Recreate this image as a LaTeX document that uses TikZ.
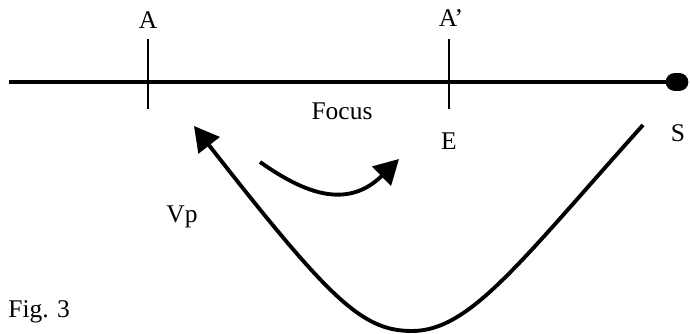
\documentclass[tikz,border=0pt]{standalone}
\usepackage{fontspec}
\setmainfont{Liberation Serif}
\usetikzlibrary{shapes, arrows.meta, positioning, shapes.geometric, calc}

\begin{document}
\begin{tikzpicture}[x=0.02cm, y=-0.02cm, every node/.style={font=\fontsize{14.5}{16}\selectfont}]
    \tikzstyle{axis} = [line width=1.9pt]
    \tikzstyle{tick} = [line width=1.6pt]
    \tikzstyle{move} = [line width=2.2pt, -{Triangle[length=14pt, width=15pt]}]
    \tikzstyle{lbl} = [inner sep=0pt]
    \useasboundingbox (0,0) rectangle (690,334);

    % axis with the two marks
    \coordinate (start) at (9, 82);
    \node[draw, rounded rectangle, fill=black, minimum width=0.44cm, minimum height=0.34cm, inner sep=0pt] (src) at (677, 82) {};
    \draw[axis] (start) -- (src);
    \coordinate (atop) at (148, 39);
    \coordinate (abot) at (148, 109);
    \coordinate (etop) at (449, 39);
    \coordinate (ebot) at (449, 109);
    \draw[tick] (atop) -- (abot);
    \draw[tick] (etop) -- (ebot);

    % labels
    \node[lbl] (a) at (148, 20) {A};
    \node[lbl] (aprime) at (451, 18) {A’};
    \node[lbl] (focus) at (342, 111) {Focus};
    \node[lbl] (e) at (449, 141) {E};
    \node[lbl] (s) at (678, 133) {S};
    \node[lbl] (vp) at (182, 217) {Vp};
    \node[lbl, anchor=west] (fig) at (8, 312) {Fig. 3};

    % movements
    \coordinate (bigstart) at (643, 125);
    \coordinate (bigend) at (194, 126);
    \coordinate (smallstart) at (260, 162);
    \coordinate (smallend) at (399, 159);
    \draw[move] (bigstart) .. controls (520, 262) and (470, 331) .. (412, 331)
        .. controls (362, 331) and (330, 300) .. (bigend);
    \draw[move] (smallstart) .. controls (300, 190) and (345, 212) .. (smallend);
\end{tikzpicture}
\end{document}
